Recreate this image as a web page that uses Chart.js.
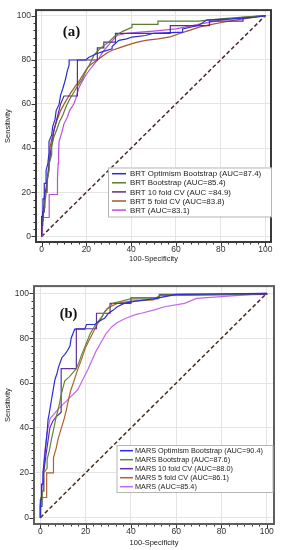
<!DOCTYPE html>
<html>
<head>
<meta charset="utf-8">
<script src="https://cdn.jsdelivr.net/npm/chart.js@4.4.1/dist/chart.umd.min.js"></script>
<style>
  body { margin: 0; background: #fff; }
  canvas { position: absolute; left: 0; }
  #chartA { top: 0; }
  #chartB { top: 276px; }
</style>
</head>
<body>
<canvas id="chartA" width="282" height="268"></canvas>
<canvas id="chartB" width="282" height="274"></canvas>
<script>
// ROC points: [100-specificity, sensitivity]
const brtOptimism = [[0,0],[0,9],[0.6,9],[0.6,17],[1.2,17],[1.2,24],[2,24],[2,30],[2.8,33],[3.3,38],[3.3,43],[4.5,46],[5,50],[6,53],[6.5,57],[7.8,59.8],[8.5,64],[9.5,67],[10.8,71.7],[11.5,75],[12.3,77.6],[12.3,79.9],[19.7,79.9],[21,81],[24,82.5],[27,83.6],[31.5,85],[31.5,86],[34.5,88.8],[38,89.5],[40.4,90.3],[46.4,91],[50,92],[63,92.5],[63,94],[70,95.5],[73.8,98],[85,98.5],[92,99],[97,99.5],[100,100]];
const brtBootstrap = [[0,0],[0,7],[0.8,7],[0.8,13],[1.5,13],[1.5,20],[2.5,20],[2.5,26],[3.4,30],[3.4,33],[4.5,37],[4.5,41],[5.5,45],[7,49],[8,52],[9.5,55],[11,59],[12.5,62],[13.8,64.3],[16,68],[18,71],[19.7,74.7],[21.5,78],[23.4,82.1],[26,85],[29.9,88],[33,91],[36.5,93],[40.4,94.7],[40.4,96],[52,96],[52,97.5],[70,97.5],[80,98.5],[90,99.3],[100,100]];
const brt10fold = [[0,0],[0,5],[0.5,5],[0.5,11],[1.2,11],[1.2,18],[2,22],[2.7,27],[3.3,32],[4,38],[4.8,43],[5.5,48],[6.5,52],[7.5,56],[8.5,60],[10,63.6],[16,63.6],[16,79.9],[24.9,79.9],[24.9,85.4],[27.8,85.4],[27.8,88],[33,88],[33,92],[57.5,92],[57.5,95.5],[75,95.5],[75,97.5],[90,97.5],[90,99],[100,100]];
const brt5fold = [[0,0],[0,8],[0.6,10.8],[1.5,16],[2.2,20.5],[2.6,25],[3,30],[3.4,35],[3.7,40],[4.5,44],[5.5,48],[7,53],[8.5,57],[10,59.8],[11.5,62.5],[13,65],[15,68],[16.7,70.2],[19,74],[20.5,76.5],[22.7,78.4],[25,80],[27,81.5],[29,83],[31.6,84.3],[35,85.5],[38,86.5],[42,87.8],[46.4,88.8],[52,89.5],[57.5,90.4],[62,92],[65,93],[70.8,94.9],[76,96],[81,97],[90,98.5],[100,100]];
const brtPlain = [[0,0],[0.4,0],[0.4,8.6],[3.4,8.6],[3.4,19],[7.1,19],[7.1,26.4],[7.4,33],[7.6,38],[7.8,43],[9,47],[10,51],[11.5,54],[12.5,57],[14.4,60],[15.5,63],[16.5,67],[18,70],[19.7,73],[21.5,75.5],[23,77.5],[25.5,80.5],[27,83],[28.5,85],[31,88],[33.7,91],[38,92],[44,92.5],[50,93],[60,94],[70,96],[80,98],[90,99.2],[100,100]];

const marsOptimism = [[0,0],[0,8],[0.5,8],[0.5,15],[1.2,15],[1.2,20.2],[1.8,26],[2.4,32],[3,38],[3.4,43.6],[4,47],[4.5,50],[5,53],[5.5,56],[6.5,61.8],[7.3,64],[8,67],[9.5,71.3],[11,73],[12,74.5],[13.1,76.5],[13.6,80],[15.2,84],[19.6,84],[20.4,86.1],[24,86.1],[26,87.5],[28.5,89],[30,91],[32.2,92.5],[34,94],[37,95.5],[42,96.5],[50,97.5],[55,98.5],[60,99.5],[100,100]];
const marsBootstrap = [[0,0],[0,6],[0.8,6],[0.8,12],[1.5,12],[1.5,20],[3,22],[3,26],[4,30],[4.9,34.9],[6,40],[6.8,44],[7.8,48],[8.5,51],[9,54],[10,58],[10.8,61],[13,63],[15.9,66.4],[17,69],[18,72],[19.2,75],[20.4,78],[22,82],[24,85.4],[26,88],[27.5,90],[28.5,92],[30.5,94],[32.2,95.7],[36,96.5],[39.6,97.5],[52,97.5],[52.6,99.2],[80,99.5],[100,100]];
const mars10fold = [[0,0],[0,5],[0.7,5],[0.7,12],[1.5,12],[1.5,20],[2.5,28],[3.5,35],[4.2,40],[5.5,43],[7,45],[9.2,47],[9.2,66.4],[15.9,66.4],[15.9,84.2],[24.8,84.2],[24.8,91.1],[30.8,91.1],[30.8,95.5],[40,95.5],[40,98],[52.6,98],[52.6,99.5],[100,99.5],[100,100]];
const mars5fold = [[0,0],[0.2,0],[0.2,9],[2.8,9],[2.8,20],[5.8,20],[5.8,26.8],[7,31],[7.8,34.9],[9.3,40],[10.5,44],[11.5,48],[12.5,53],[13.5,57],[14.5,59.8],[15.5,63],[16.5,66],[18,70],[19,73],[20,76],[21,78],[23,82],[25,86],[27,89],[28,91],[29.5,93],[31,94],[34,95.5],[40,96.5],[50,97],[52.6,99],[100,99.5],[100,100]];
const marsPlain = [[0,0],[0,6],[0.6,10],[1,16],[1.4,22],[2,30],[3,38],[4.3,44.2],[8,48.5],[12,52.5],[16.5,57],[19,62],[21,66],[24.5,74],[27,78.5],[29,82],[31.5,85],[34,87],[38,89],[42,90.5],[45,91.2],[50,92.5],[54.9,94],[63.7,95.5],[68.9,97.7],[80,98.5],[100,100]];

const chanceLine = [[0,0],[100,100]];

const brtLabels = ['BRT Optimism Bootstrap (AUC=87.4)', 'BRT Bootstrap (AUC=85.4)', 'BRT 10 fold CV (AUC =84.9)', 'BRT 5 fold CV (AUC=83.8)', 'BRT (AUC=83.1)'];
const marsLabels = ['MARS Optimism Bootstrap (AUC=90.4)', 'MARS Bootstrap (AUC=87.6)', 'MARS 10 fold CV (AUC=88.0)', 'MARS 5 fold CV (AUC=86.1)', 'MARS (AUC=85.4)'];
const tickValues = [0,1,2,3,4,5,6,7,8,9,10,11,12,13,14,15,16,17,18,19,20,21,22,23,24,25,26,27,28,29,30].map(i => i * 20 / 6);

const brtColors = ['#2a2ad6', '#5b7d2c', '#5a2d8e', '#a5572f', '#b64ee6'];
const marsColors = ['#2b2be0', '#5f8a36', '#6330a0', '#b0612c', '#c468ee'];

const FONT = "'Liberation Sans', Arial, sans-serif";

const rocDecor = {
  id: 'rocDecor',
  afterDraw(chart, args, o) {
    const {ctx, chartArea: a, scales: {x, y}} = chart;
    ctx.save();
    ctx.strokeStyle = '#333';
    ctx.lineWidth = 1;
    ctx.beginPath();
    x.ticks.forEach(t => {
      const p = Math.round(x.getPixelForValue(t.value)) + 0.5;
      const len = t.value % 20 === 0 ? 4.5 : 2.5;
      ctx.moveTo(p, a.bottom); ctx.lineTo(p, a.bottom + len);
    });
    y.ticks.forEach(t => {
      const p = Math.round(y.getPixelForValue(t.value)) + 0.5;
      const len = t.value % 20 === 0 ? 4.5 : 2.5;
      ctx.moveTo(a.left, p); ctx.lineTo(a.left - len, p);
    });
    ctx.stroke();

    ctx.strokeStyle = o.frameColor;
    ctx.lineWidth = 2;
    ctx.strokeRect(a.left, a.top, a.right - a.left, a.bottom - a.top);

    // legend box
    const L = o.legend;
    ctx.fillStyle = '#fff';
    ctx.fillRect(L.x, L.y, L.w, L.h);
    ctx.strokeStyle = '#b5b5b5';
    ctx.lineWidth = 1;
    ctx.strokeRect(L.x + 0.5, L.y + 0.5, L.w, L.h);
    ctx.font = L.font + 'px ' + FONT;
    ctx.textBaseline = 'middle';
    ctx.textAlign = 'left';
    chart.data.datasets.slice(0, 5).forEach((ds, i) => {
      const yy = L.row0 + i * L.dy;
      ctx.strokeStyle = ds.borderColor;
      ctx.lineWidth = 1.5;
      ctx.beginPath();
      ctx.moveTo(L.lineX0, yy); ctx.lineTo(L.lineX1, yy);
      ctx.stroke();
      ctx.fillStyle = '#222';
      ctx.fillText(ds.label, L.textX, yy + 0.5);
    });

    // panel tag
    ctx.font = 'bold ' + o.tag.size + "px 'Liberation Serif', 'Times New Roman', serif";
    ctx.fillStyle = '#111';
    ctx.textAlign = 'center';
    ctx.fillText(o.tag.text, o.tag.x, o.tag.y);
    ctx.restore();
  }
};

function rocChart(id, curves, labels, colors, cfg) {
  const datasets = curves.map((c, i) => ({
    label: labels[i],
    data: c.map(p => ({x: p[0], y: p[1]})),
    borderColor: colors[i],
    borderWidth: 1.2,
    pointRadius: 0,
    tension: 0,
    fill: false
  }));
  datasets.push({
    label: 'chance',
    data: chanceLine.map(p => ({x: p[0], y: p[1]})),
    borderColor: '#4a2a22',
    borderWidth: 1.5,
    borderDash: [4, 2.5],
    pointRadius: 0,
    fill: false
  });
  const axis = (title, fitFn) => ({
    type: 'linear',
    min: cfg.min,
    max: cfg.max,
    afterBuildTicks: s => { s.ticks = tickValues.map(v => ({value: v})); },
    afterFit: fitFn,
    grid: {
      drawTicks: false,
      color: c => (c.tick && c.tick.value % 20 === 0) ? '#e4e4e4' : 'rgba(0,0,0,0)',
      lineWidth: 1
    },
    border: {display: false},
    ticks: {
      autoSkip: false,
      maxRotation: 0,
      color: '#333',
      font: {family: FONT, size: 8.5},
      callback: v => (v % 20 === 0 ? v : '')
    },
    title: {display: true, text: title, color: '#222', font: {family: FONT, size: 7.5}}
  });
  const xAxis = axis('100-Specificity', s => { s.height = 26; });
  xAxis.ticks.padding = 3;
  xAxis.title.padding = {top: 0, bottom: cfg.xTitlePad};
  const yAxis = axis('Sensitivity', s => { s.width = cfg.yWidth; });
  yAxis.ticks.padding = 5;
  yAxis.title.padding = {top: 3, bottom: 0};

  return new Chart(document.getElementById(id), {
    type: 'line',
    data: {datasets},
    options: {
      responsive: false,
      animation: false,
      layout: {padding: {top: cfg.padTop, right: cfg.padRight, left: 0, bottom: 0}},
      scales: {x: xAxis, y: yAxis},
      plugins: {
        legend: {display: false},
        tooltip: {enabled: false},
        rocDecor: {frameColor: cfg.frameColor, legend: cfg.legend, tag: cfg.tag}
      }
    },
    plugins: [rocDecor]
  });
}

rocChart('chartA', [brtOptimism, brtBootstrap, brt10fold, brt5fold, brtPlain], brtLabels, brtColors, {
  min: -2.5, max: 102.5, yWidth: 36, padTop: 5, padRight: 11, xTitlePad: 4.5,
  frameColor: '#3a3a3a',
  legend: {x: 108, y: 167.5, w: 163, h: 49, row0: 173.7, dy: 9.1, lineX0: 112, lineX1: 126, textX: 130, font: 7.9},
  tag: {text: '(a)', x: 71.5, y: 32, size: 15}
});

rocChart('chartB', [marsOptimism, marsBootstrap, mars10fold, mars5fold, marsPlain], marsLabels, marsColors, {
  min: -2.8, max: 103.2, yWidth: 34, padTop: 7, padRight: 8, xTitlePad: 3,
  frameColor: '#5e5e5e',
  legend: {x: 116.5, y: 169, w: 156, h: 47, row0: 174.7, dy: 9, lineX0: 120, lineX1: 133, textX: 135, font: 7.3},
  tag: {text: '(b)', x: 68.5, y: 38, size: 14.5}
});
</script>
</body>
</html>
